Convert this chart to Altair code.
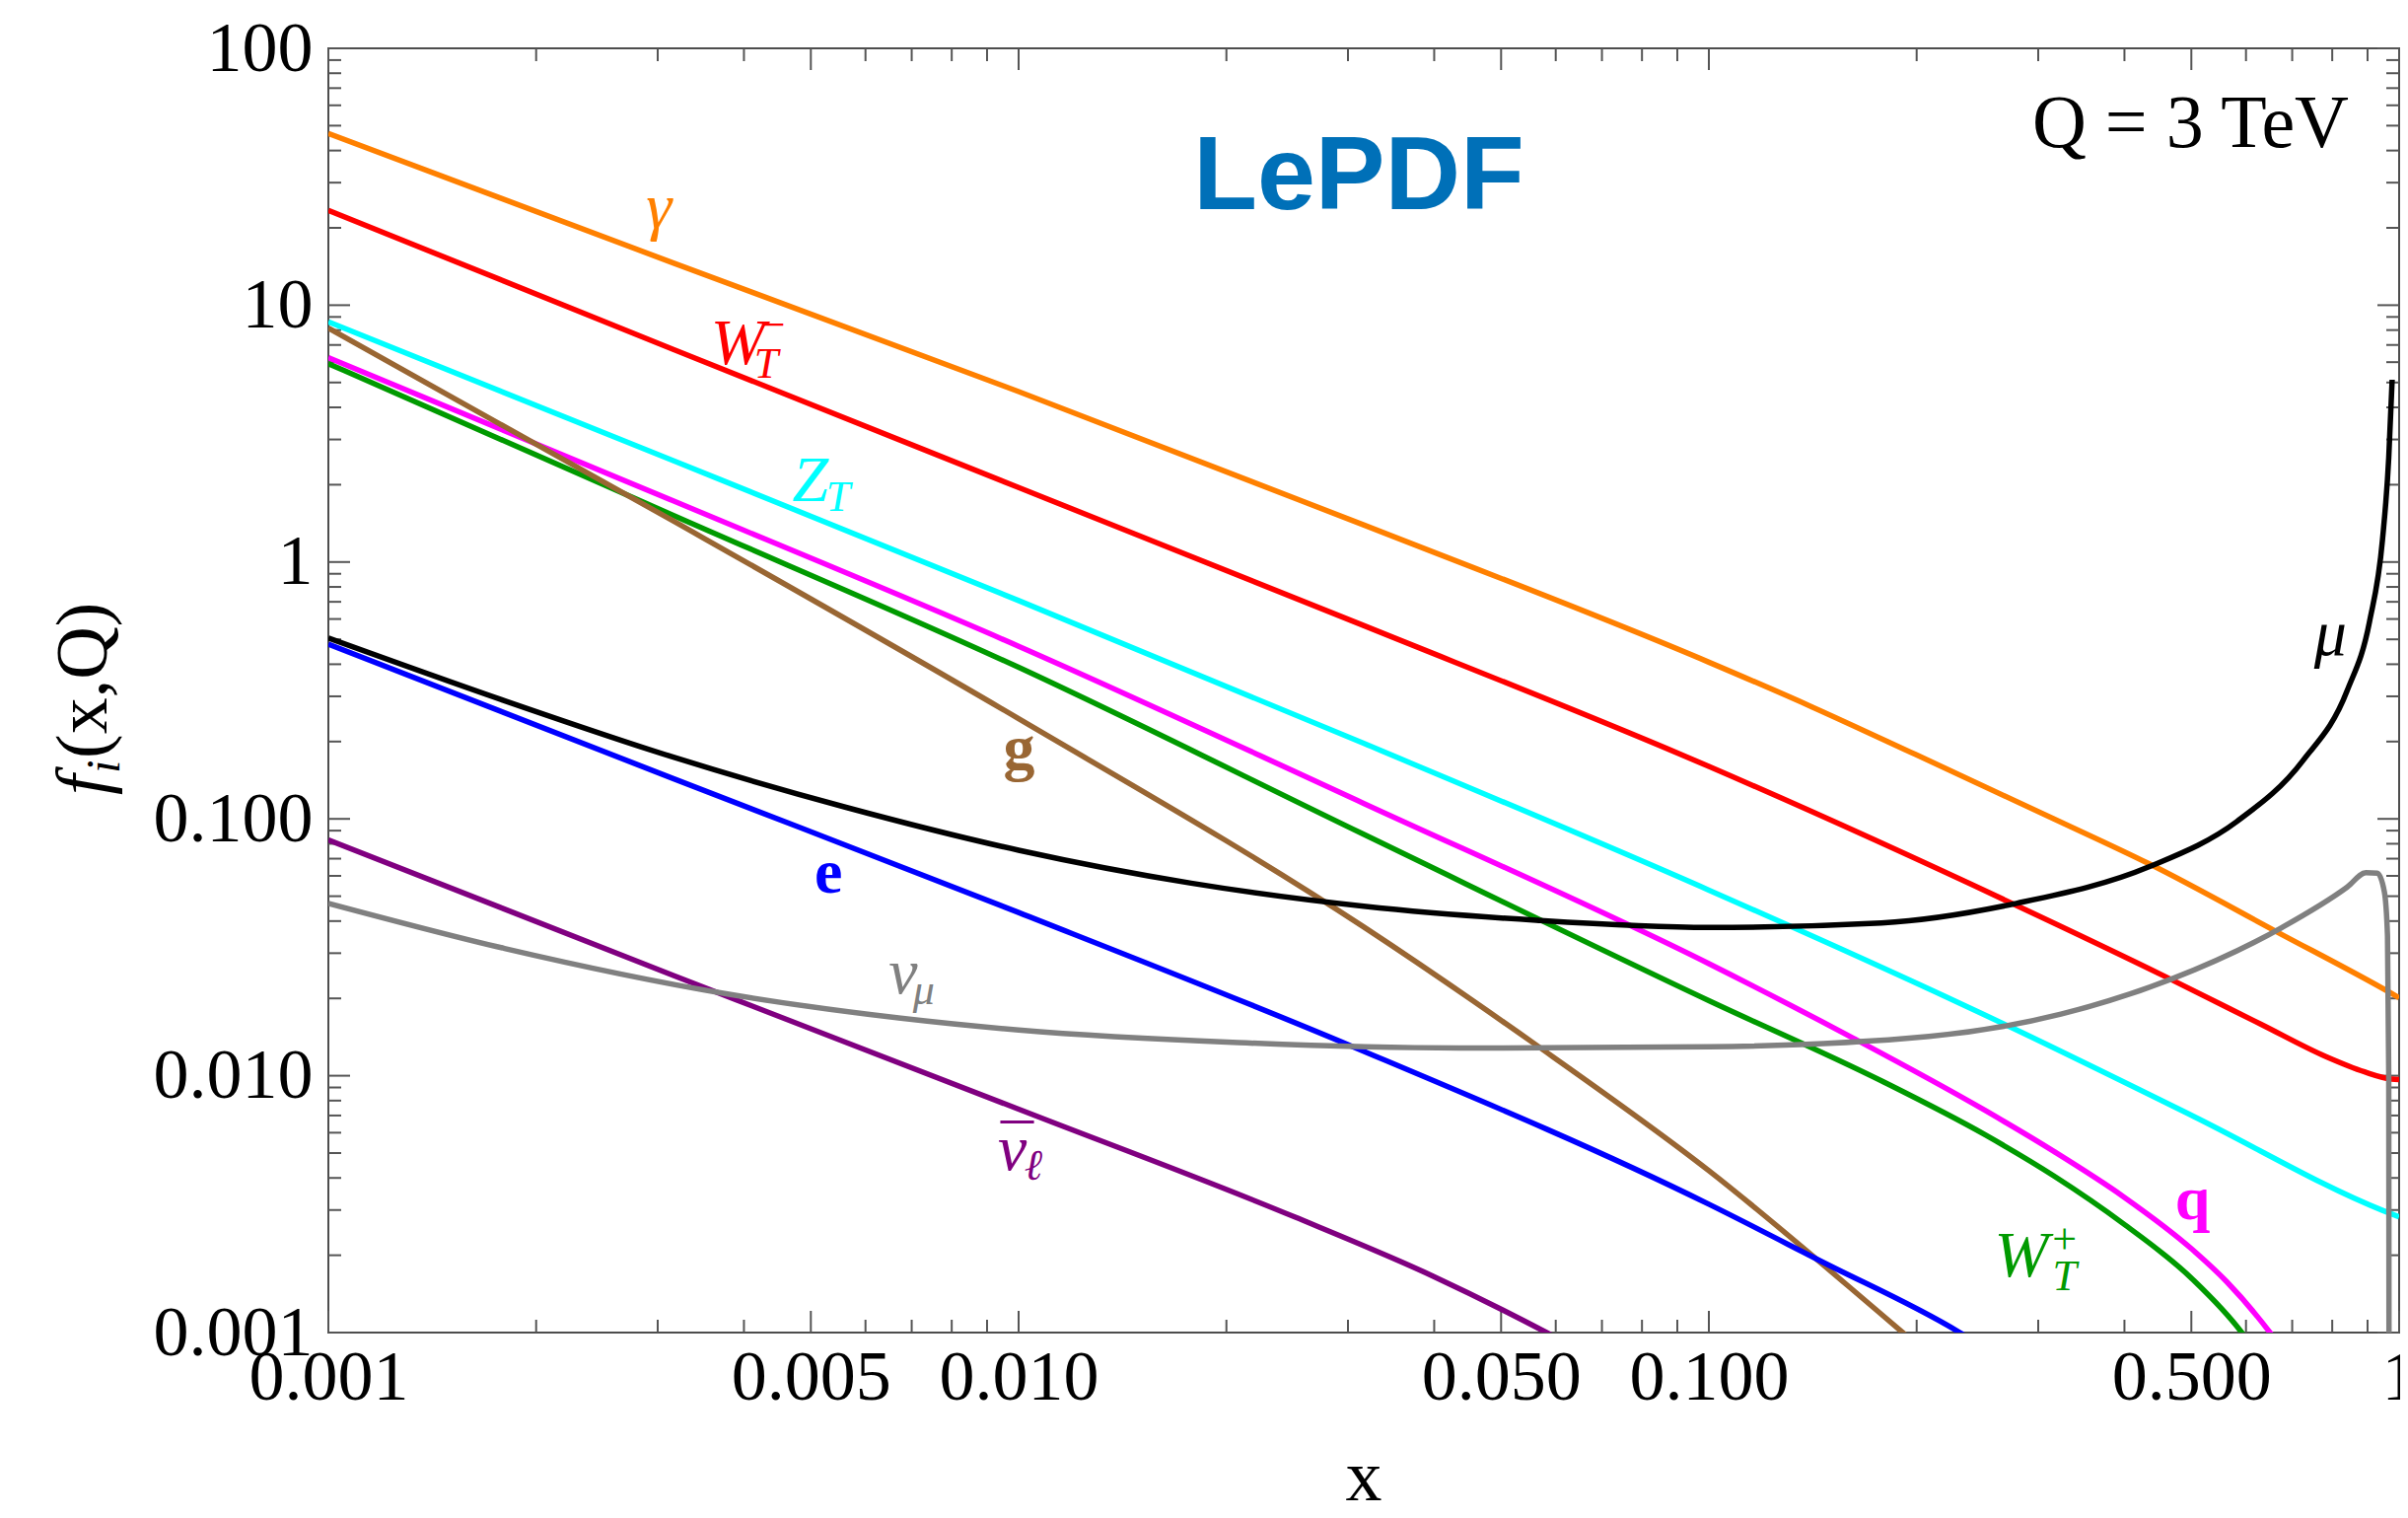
import altair as alt
import pandas as pd

# ---------------- data ----------------
SERIES = ["gamma", "W_T^-", "Z_T", "q", "W_T^+", "g", "mu", "e", "nubar_l", "nu_mu"]
COLORS = ["#FF8000", "#FF0000", "#00FFFF", "#FF00FF", "#009A00",
          "#996633", "#000000", "#0000FF", "#800080", "#808080"]

X_GAMMA = [0.001, 0.00316, 0.01, 0.0316, 0.1, 0.1413, 0.1995, 0.3162, 0.4345, 0.6653, 0.975, 1.0]
F_GAMMA = [46.6, 14.6, 4.61, 1.396, 0.4074, 0.2723, 0.1778, 0.1, 0.0668, 0.0363, 0.0209, 0.0201]

X_WMINUS = [0.001, 0.00316, 0.01, 0.0316, 0.1, 0.279, 0.46, 0.631, 0.782, 0.891, 0.975, 1.0]
F_WMINUS = [23.4, 6.73, 1.95, 0.566, 0.160, 0.0460, 0.0242, 0.01585, 0.01189, 0.01035, 0.0097, 0.00966]

X_ZT = [0.001, 0.00316, 0.01, 0.0316, 0.1, 0.2716, 0.5035, 0.946, 1.0]
F_ZT = [8.61, 2.483, 0.708, 0.197, 0.0528, 0.0156, 0.00695, 0.00299, 0.00282]

X_Q = [0.001, 0.00316, 0.01, 0.0316, 0.1, 0.1622, 0.2512, 0.3162, 0.3981, 0.5012, 0.5623, 0.650, 0.7079]
F_Q = [6.25, 1.73, 0.47, 0.115, 0.0273, 0.01396, 0.00733, 0.00507, 0.00339, 0.00211, 0.00158, 0.001, 0.000724]

X_WPLUS = [0.001, 0.00316, 0.01, 0.0316, 0.1, 0.1778, 0.2512, 0.3162, 0.3981, 0.5012, 0.5916, 0.6457]
F_WPLUS = [5.92, 1.52, 0.389, 0.0871, 0.0196, 0.00955, 0.00589, 0.00407, 0.00266, 0.00162, 0.001, 0.000708]

X_G = [0.001, 0.00316, 0.01, 0.0316, 0.0562, 0.1, 0.178, 0.209]
F_G = [8.15, 1.445, 0.2455, 0.0380, 0.01318, 0.00427, 0.001175, 0.000813]

X_MU = [0.001, 0.001778, 0.003162, 0.005623, 0.01, 0.01778, 0.03162, 0.05623, 0.1, 0.1778,
        0.279, 0.435, 0.582, 0.726, 0.841, 0.906, 0.946, 0.966, 0.977]
F_MU = [0.506, 0.2917, 0.1738, 0.1109, 0.0755, 0.0562, 0.0457, 0.0403, 0.0378, 0.03936,
        0.0469, 0.0652, 0.0977, 0.169, 0.316, 0.586, 1.22, 2.55, 5.12]

X_E = [0.001, 0.00316, 0.01, 0.0305, 0.1, 0.144, 0.231, 0.251]
F_E = [0.479, 0.1435, 0.0432, 0.01297, 0.00316, 0.00192, 0.001, 0.00087]

X_NUBAR = [0.001, 0.003162, 0.01, 0.02512, 0.03981, 0.0582, 0.0631]
F_NUBAR = [0.0828, 0.02455, 0.00741, 0.002818, 0.00166, 0.001, 0.000891]

X_NUMU = [0.001, 0.0018, 0.00375, 0.00675, 0.01, 0.0208, 0.0435, 0.1, 0.2084, 0.3236,
          0.4677, 0.6745, 0.8414, 0.895, 0.93, 0.952, 0.962, 0.966, 0.967]
F_NUMU = [0.0469, 0.0313, 0.0209, 0.01675, 0.01507, 0.01346, 0.01282, 0.01297, 0.01422, 0.01738,
          0.02377, 0.0376, 0.0543, 0.0617, 0.0615, 0.052, 0.035, 0.01, 0.0005]

# axis tick values / labels
X_LABEL_VALUES = [0.001, 0.005, 0.01, 0.05, 0.1, 0.5, 1.0]
X_MINOR_TICKS = [0.002, 0.003, 0.004, 0.006, 0.007, 0.008, 0.009,
                 0.02, 0.03, 0.04, 0.06, 0.07, 0.08, 0.09,
                 0.2, 0.3, 0.4, 0.6, 0.7, 0.8, 0.9]
Y_LABEL_VALUES = [0.001, 0.01, 0.1, 1.0, 10.0, 100.0]
Y_MINOR_TICKS = [k * 10.0 ** d for d in range(-3, 2) for k in range(2, 10)]

# curve labels (text, x, f, colour)
LBL_MAIN = [("γ", 0.003013, 20.0, "#FF8000"), ("W", 0.003919, 5.90, "#FF0000"),
            ("Z", 0.004995, 1.727, "#00FFFF"), ("ν", 0.006804, 0.02094, "#808080"),
            ("ν", 0.009794, 0.004302, "#800080"), ("μ", 0.7949, 0.4346, "#000000"),
            ("W", 0.2836, 0.001656, "#009A00")]
LBL_SUB = [("T", 0.004309, 5.22, "#FF0000"), ("T", 0.005477, 1.581, "#00FFFF"),
           ("μ", 0.00729, 0.0190, "#808080"), ("ℓ", 0.0105, 0.003937, "#800080"),
           ("T", 0.3276, 0.001463, "#009A00")]
LBL_SUP = [("−", 0.00441, 8.26, "#FF0000"), ("+", 0.3276, 0.002275, "#009A00")]
LBL_BAR = [("¯", 0.00995, 0.004302, "#800080")]
LBL_BOLD = [("e", 0.005302, 0.0516, "#0000FF"), ("q", 0.502, 0.002764, "#FF00FF"),
            ("g", 0.01002, 0.1573, "#996633")]

TITLE_TEXT = ["LePDF"]
Q_TEXT = ["Q = 3 TeV"]
X_TITLE = ["x"]
Y_TITLE_PARTS = ["f", "i", "(x,Q)"]

# ---------------- build ----------------
W, H = 2100, 1302
SERIF = "Liberation Serif"
TICK_COLOR = "#555555"

rows = []
for name, xs, fs in [("gamma", X_GAMMA, F_GAMMA), ("W_T^-", X_WMINUS, F_WMINUS),
                     ("Z_T", X_ZT, F_ZT), ("q", X_Q, F_Q), ("W_T^+", X_WPLUS, F_WPLUS),
                     ("g", X_G, F_G), ("mu", X_MU, F_MU), ("e", X_E, F_E),
                     ("nubar_l", X_NUBAR, F_NUBAR), ("nu_mu", X_NUMU, F_NUMU)]:
    for xv, fv in zip(xs, fs):
        rows.append({"series": name, "x": xv, "f": fv})
df = pd.DataFrame(rows)

xscale = alt.Scale(type="log", domain=[0.001, 1], nice=False)
yscale = alt.Scale(type="log", domain=[0.001, 100], nice=False)

xaxis = alt.Axis(values=X_LABEL_VALUES,
                 labelExpr="datum.value == 1 ? '1' : format(datum.value, '.3f')",
                 ticks=False, tickSize=0, domain=False, grid=False,
                 labelFont=SERIF, labelFontSize=72, labelColor="#000000",
                 labelPadding=10, labelFlush=False, labelOverlap=False, labelBound=False,
                 title="")
yaxis = alt.Axis(values=Y_LABEL_VALUES,
                 labelExpr="datum.value >= 1 ? format(datum.value, 'd') : format(datum.value, '.3f')",
                 ticks=False, tickSize=0, domain=False, grid=False,
                 labelFont=SERIF, labelFontSize=72, labelColor="#000000",
                 labelPadding=16, labelFlush=False, labelOverlap=False, labelBound=False,
                 title="")

X = alt.X("x:Q", scale=xscale, axis=xaxis)
Y = alt.Y("f:Q", scale=yscale, axis=yaxis)

lines = alt.Chart(df).mark_line(clip=True, strokeWidth=5.5, interpolate="monotone").encode(
    x=X, y=Y,
    color=alt.Color("series:N", scale=alt.Scale(domain=SERIES, range=COLORS), legend=None),
    detail="series:N",
)


def xticks(vals, length, top):
    d = pd.DataFrame({"x": vals})
    if top:
        y0, y1 = alt.value(0), alt.value(length)
    else:
        y0, y1 = alt.value(H), alt.value(H - length)
    return alt.Chart(d).mark_rule(color=TICK_COLOR, strokeWidth=2).encode(x=X, y=y0, y2=y1)


def yticks(vals, length, right):
    d = pd.DataFrame({"f": vals})
    if right:
        x0, x1 = alt.value(W), alt.value(W - length)
    else:
        x0, x1 = alt.value(0), alt.value(length)
    return alt.Chart(d).mark_rule(color=TICK_COLOR, strokeWidth=2).encode(y=Y, x=x0, x2=x1)


tick_layers = [
    xticks(X_LABEL_VALUES, 22, False), xticks(X_MINOR_TICKS, 13, False),
    xticks(X_LABEL_VALUES, 22, True), xticks(X_MINOR_TICKS, 13, True),
    yticks(Y_LABEL_VALUES, 22, False), yticks(Y_MINOR_TICKS, 13, False),
    yticks(Y_LABEL_VALUES, 22, True), yticks(Y_MINOR_TICKS, 13, True),
]


def label_layer(items, **mk):
    d = pd.DataFrame(items, columns=["t", "x", "f", "c"])
    return alt.Chart(d).mark_text(**mk).encode(
        x=X, y=Y, text="t:N", color=alt.Color("c:N", scale=None))


labels = [
    label_layer(LBL_MAIN, font=SERIF, fontStyle="italic", fontSize=66, align="center", baseline="alphabetic"),
    label_layer(LBL_SUB, font=SERIF, fontStyle="italic", fontSize=44, align="center", baseline="alphabetic"),
    label_layer(LBL_SUP, font=SERIF, fontSize=44, align="center", baseline="middle"),
    label_layer(LBL_BAR, font=SERIF, fontSize=66, align="center", baseline="alphabetic"),
    label_layer(LBL_BOLD, font=SERIF, fontWeight="bold", fontSize=64, align="center", baseline="alphabetic"),
]

title = alt.Chart(pd.DataFrame({"t": TITLE_TEXT})).mark_text(
    font="Liberation Sans", fontWeight="bold", fontSize=106, color="#0070B8",
    align="center", baseline="alphabetic").encode(x=alt.value(1045), y=alt.value(163), text="t:N")

qlabel = alt.Chart(pd.DataFrame({"t": Q_TEXT})).mark_text(
    font=SERIF, fontSize=76, color="#000000", align="right", baseline="alphabetic").encode(
    x=alt.value(2049), y=alt.value(100), text="t:N")

xtitle = alt.Chart(pd.DataFrame({"t": X_TITLE})).mark_text(
    font=SERIF, fontSize=74, color="#000000", align="center", baseline="alphabetic").encode(
    x=alt.value(1050), y=alt.value(1472), text="t:N")

yt_f = alt.Chart(pd.DataFrame({"t": [Y_TITLE_PARTS[0]]})).mark_text(
    font=SERIF, fontStyle="italic", fontSize=74, color="#000000", align="left",
    baseline="alphabetic", angle=270).encode(x=alt.value(-225), y=alt.value(757), text="t:N")
yt_i = alt.Chart(pd.DataFrame({"t": [Y_TITLE_PARTS[1]]})).mark_text(
    font=SERIF, fontStyle="italic", fontSize=48, color="#000000", align="left",
    baseline="alphabetic", angle=270).encode(x=alt.value(-212), y=alt.value(735), text="t:N")
yt_rest = alt.Chart(pd.DataFrame({"t": [Y_TITLE_PARTS[2]]})).mark_text(
    font=SERIF, fontSize=74, color="#000000", align="left",
    baseline="alphabetic", angle=270).encode(x=alt.value(-225), y=alt.value(720), text="t:N")

chart = alt.layer(
    *tick_layers, lines, *labels, title, qlabel, xtitle, yt_f, yt_i, yt_rest
).properties(
    width=W, height=H,
    autosize=alt.AutoSizeParams(type="none"),
    padding={"left": 325, "top": 41, "right": 1, "bottom": 180},
    background="white",
).configure_view(stroke="#4d4d4d", strokeWidth=2)

chart.save("out.html", embed_options={"renderer": "svg", "actions": False})
